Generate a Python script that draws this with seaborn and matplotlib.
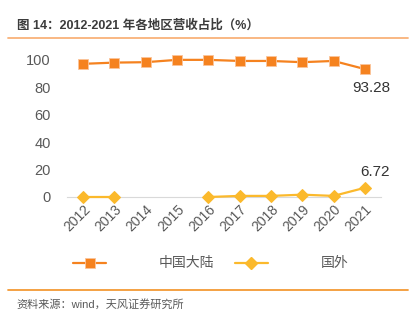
import numpy as np
import pandas as pd
import matplotlib
matplotlib.use("Agg")
import matplotlib.pyplot as plt
import seaborn as sns
from matplotlib.lines import Line2D

years = ["2012", "2013", "2014", "2015", "2016", "2017", "2018", "2019", "2020", "2021"]
mainland = [97.1, 98.0, 98.3, 100.0, 100.0, 99.2, 99.2, 98.3, 99.2, 93.28]
overseas = [0.0, 0.0, np.nan, np.nan, 0.0, 0.8, 0.8, 1.7, 0.8, 6.72]
series_names = ["中国大陆", "国外"]
yticks = [0, 20, 40, 60, 80, 100]

sns.set_theme(style="white")
plt.rcParams['font.family'] = ['Liberation Sans', 'Noto Sans CJK SC', 'DejaVu Sans']

c_main = "#F5821F"
c_over = "#FBB92C"
gray = "#595959"

fig = plt.figure(figsize=(4.2, 3.22), dpi=100)
ax = fig.add_axes([0.1605, 0.3882, 0.7455, 0.4472])

x = np.arange(len(years))
df_main = pd.DataFrame({"x": x, "v": mainland})
df_over = pd.DataFrame({"x": x, "v": overseas})
# split overseas into contiguous segments (gap where data missing)
df_over["seg"] = df_over["v"].isna().cumsum()
df_over = df_over.dropna()

sns.lineplot(data=df_main, x="x", y="v", ax=ax, color=c_main, marker="s",
             markersize=7.5, linewidth=1.6, markeredgecolor="#FBC49A",
             markeredgewidth=0.6, clip_on=False, zorder=3)
for _, g in df_over.groupby("seg"):
    sns.lineplot(data=g, x="x", y="v", ax=ax, color=c_over, marker="D",
                 markersize=6.5, linewidth=1.6, markeredgecolor=c_over,
                 clip_on=False, zorder=3)

ax.set_xlim(-0.5, len(years) - 0.5)
ax.set_ylim(0, 105)
ax.set_yticks(yticks)
ax.set_yticklabels([str(t) for t in yticks], fontsize=10.5, color=gray)
ax.set_xticks(x)
ax.set_xticklabels(years, rotation=45, ha="right", rotation_mode="anchor",
                   fontsize=10, color=gray)
ax.tick_params(axis="y", length=0, pad=12)
ax.tick_params(axis="x", length=0, pad=4)
ax.set_xlabel("")
ax.set_ylabel("")
for s in ["top", "right", "left"]:
    ax.spines[s].set_visible(False)
ax.spines["bottom"].set_color("#D9D9D9")
ax.spines["bottom"].set_linewidth(0.8)
ax.grid(False)

ax.annotate("93.28", xy=(9, mainland[-1]), xytext=(4.3, -13.7),
            textcoords="offset points", ha="center", va="center",
            fontsize=11, color="#333333")
ax.annotate("6.72", xy=(9, overseas[-1]), xytext=(7.2, 11.5),
            textcoords="offset points", ha="center", va="center",
            fontsize=11, color="#333333")

handles = [
    Line2D([0], [0], color=c_main, marker="s", markersize=7.5, linewidth=1.6,
           markeredgecolor="#FBC49A", markeredgewidth=0.6),
    Line2D([0], [0], color=c_over, marker="D", markersize=6.5, linewidth=1.6),
]
fig.legend(handles, series_names, loc="center", bbox_to_anchor=(0.502, 0.182),
           ncol=2, frameon=False, handlelength=2.4, handletextpad=3.8,
           columnspacing=1.45, prop={"size": 10}, labelcolor=gray)

fig.text(0.040, 0.922, "图 14：2012-2021 年各地区营收占比（%）", fontsize=9,
         fontweight="bold", color="#3C3C3C", va="center", ha="left")
fig.add_artist(Line2D([0.019, 0.972], [0.882, 0.882], color="#F9B27A",
                      linewidth=1.3, transform=fig.transFigure))
fig.add_artist(Line2D([0.019, 0.972], [0.099, 0.099], color="#F39A35",
                      linewidth=1.3, transform=fig.transFigure))
fig.text(0.040, 0.056, "资料来源：wind，天风证券研究所", fontsize=8,
         color="#595959", va="center", ha="left")

fig.savefig("out.png", dpi=100)
